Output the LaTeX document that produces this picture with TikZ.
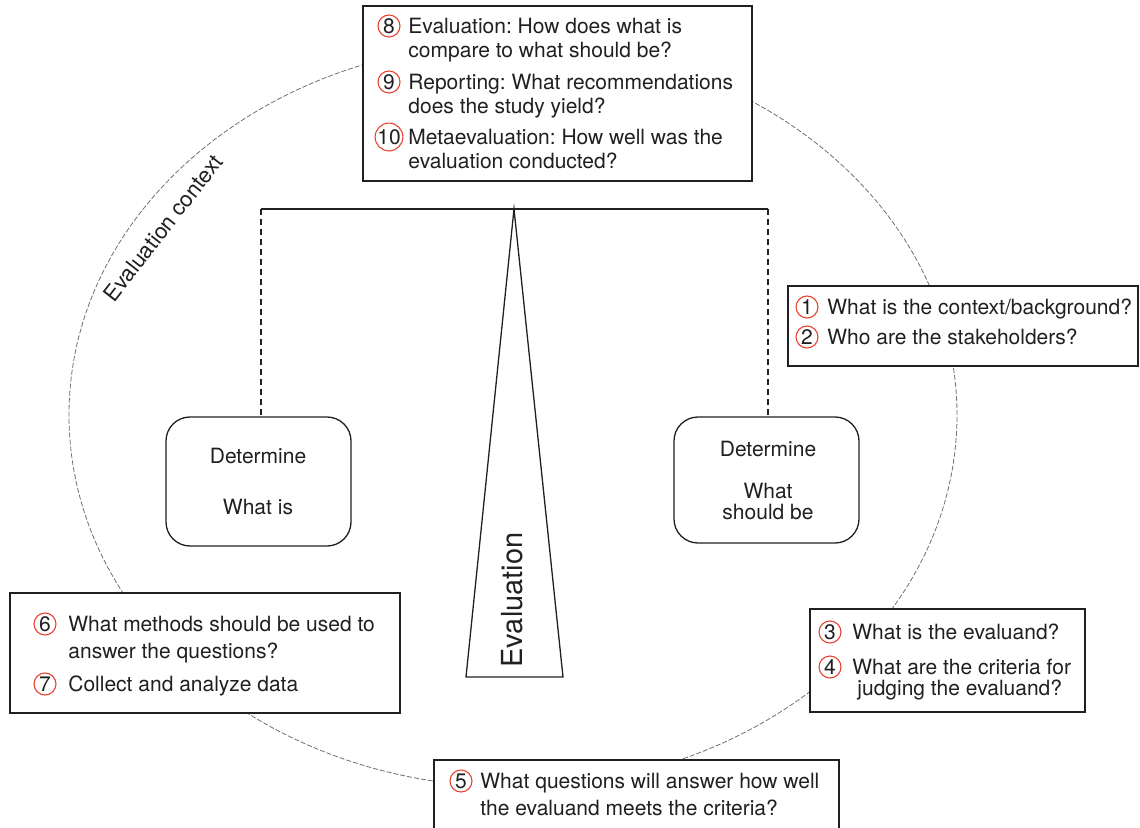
\documentclass[tikz,border=0pt]{standalone}
\usepackage{fontspec}
\setmainfont{TeX Gyre Heros}
\frenchspacing
\definecolor{textc}{HTML}{231F20}
\definecolor{numred}{HTML}{E8432E}
\definecolor{ctxgray}{HTML}{707070}
\begin{document}
\begin{tikzpicture}[x=0.5pt,y=-0.5pt,
  txt/.style={anchor=base west, inner sep=0pt, font=\fontsize{10.5}{12}\selectfont, text=textc},
  ctxt/.style={anchor=base, inner sep=0pt, font=\fontsize{10.5}{12}\selectfont, text=textc},
  num/.style={circle, draw=numred, line width=0.55pt, minimum size=11pt, inner sep=0pt, font=\fontsize{10.5}{12}\selectfont, text=textc},
  qbox/.style={draw=textc, line width=0.65pt, fill=white, inner sep=0pt},
  detbox/.style={draw=textc, line width=0.65pt, fill=white, rounded corners=12pt, inner sep=0pt, minimum width=92.5pt},
  beam/.style={draw=textc, line width=0.65pt},
  hang/.style={draw=textc, line width=0.6pt, dash pattern=on 3pt off 2pt},
  ctx/.style={draw=ctxgray, line width=0.4pt, dash pattern=on 2.5pt off 1pt}
]
\useasboundingbox (0,0) rectangle (1140,828);

% evaluation context ellipse
\draw[ctx] (513,415) ellipse [x radius=222pt, y radius=186pt];
\node[rotate=52, inner sep=0pt, font=\fontsize{11}{12}\selectfont, text=textc] (ctxlabel) at (163,228) {Evaluation context};

% balance
\coordinate (bl) at (261,209);
\coordinate (br) at (768,209);
\coordinate (ap) at (514,209);
\coordinate (tl) at (466,677);
\coordinate (tr) at (563,677);
\draw[beam] (bl) -- (br);
\draw[beam, line join=miter] (ap) -- (tl) -- (tr) -- cycle;
\node[rotate=90, inner sep=0pt, font=\fontsize{14.5}{16}\selectfont, text=textc] (evlabel) at (512,600) {Evaluation};

% determine boxes
\node[detbox, minimum height=64.5pt] (detL) at (258.5,481.5) {};
\node[detbox, minimum height=63pt] (detR) at (766.5,480) {};
\draw[hang] (bl) -- (bl |- detL.north);
\draw[hang] (br) -- (br |- detR.north);
\node[ctxt] (detLa) at (258,463.5) {Determine};
\node[ctxt] (detLb) at (258,514.5) {What is};
\node[ctxt] (detRa) at (768,456.5) {Determine};
\node[ctxt] (detRb) at (768,498.5) {What};
\node[ctxt] (detRc) at (768,519.5) {should be};

% top box 8-10
\node[qbox, minimum width=194.5pt, minimum height=87.5pt] (b810) at (557.5,93.5) {};
\node[num] (n8) at (389,26) {8};
\node[txt] (t8a) at (408,33.5) {Evaluation: How does what is};
\node[txt] (t8b) at (408,57.5) {compare to what should be?};
\node[num] (n9) at (389,82) {9};
\node[txt] (t9a) at (408,89.5) {Reporting: What recommendations};
\node[txt] (t9b) at (408,113.5) {does the study yield?};
\node[num] (n10) at (389,137) {10};
\node[txt] (t10a) at (408,144.5) {Metaevaluation: How well was the};
\node[txt] (t10b) at (408,168.5) {evaluation conducted?};

% box 1-2
\node[qbox, minimum width=175pt, minimum height=40pt] (b12) at (963,326) {};
\node[num] (n1) at (807,307) {1};
\node[txt] (t1) at (827,314.5) {What is the context/background?};
\node[num] (n2) at (807,337) {2};
\node[txt] (t2) at (827,344.5) {Who are the stakeholders?};

% box 3-4
\node[qbox, minimum width=137.5pt, minimum height=51.5pt] (b34) at (947.5,660.5) {};
\node[num] (n3) at (830,632) {3};
\node[txt] (t3) at (852,639.5) {What is the evaluand?};
\node[num] (n4) at (830,667) {4};
\node[txt] (t4a) at (852,674.5) {What are the criteria for};
\node[txt] (t4b) at (857,695.5) {judging the evaluand?};

% box 6-7
\node[qbox, minimum width=195pt, minimum height=60pt] (b67) at (205,653) {};
\node[num] (n6) at (45,624) {6};
\node[txt] (t6a) at (68,631.5) {What methods should be used to};
\node[txt] (t6b) at (68,658.5) {answer the questions?};
\node[num] (n7) at (45,684) {7};
\node[txt] (t7) at (68,691.5) {Collect and analyze data};

% box 5
\node[qbox, minimum width=202.5pt, minimum height=36pt] (b5) at (636.5,796) {};
\node[num] (n5) at (461,781) {5};
\node[txt] (t5a) at (480,788.5) {What questions will answer how well};
\node[txt] (t5b) at (480,815.5) {the evaluand meets the criteria?};
\end{tikzpicture}
\end{document}
